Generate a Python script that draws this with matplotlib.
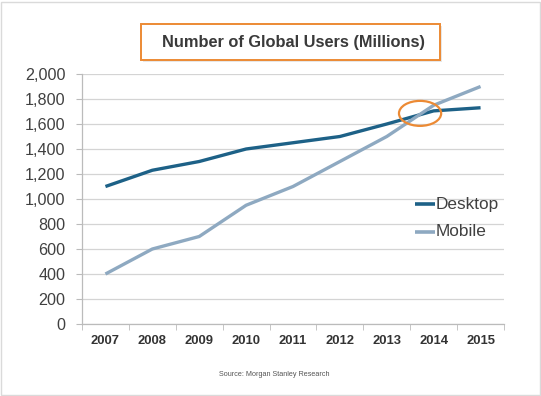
import matplotlib
matplotlib.use("Agg")
import matplotlib.pyplot as plt
from matplotlib.patches import Ellipse, Rectangle
import numpy as np

years = ["2007", "2008", "2009", "2010", "2011", "2012", "2013", "2014", "2015"]
desktop = [1100, 1230, 1300, 1400, 1450, 1500, 1600, 1705, 1730]
mobile = [400, 600, 700, 950, 1100, 1300, 1500, 1750, 1900]
y_ticks = [0, 200, 400, 600, 800, 1000, 1200, 1400, 1600, 1800, 2000]

plt.rcParams['font.family'] = ['Liberation Sans', 'DejaVu Sans']

W, H = 541, 396
fig = plt.figure(figsize=(W / 100, H / 100), dpi=100)
fig.patch.set_facecolor("white")

# outer frame
fig.add_artist(Rectangle((0.5 / W, 1.5 / H), (W - 2) / W, (H - 3) / H, transform=fig.transFigure,
                         fill=False, edgecolor="#dadada", linewidth=1.0))

ax = fig.add_axes([82 / W, 1 - 324 / H, 422 / W, 250 / H])
x = np.arange(len(years))
c_desk = "#1d6187"
c_mob = "#8ea9c1"
ax.plot(x, desktop, color=c_desk, linewidth=2.4, solid_capstyle="butt", zorder=3)
ax.plot(x, mobile, color=c_mob, linewidth=2.4, solid_capstyle="butt", zorder=3)

ax.set_xlim(-0.5, len(years) - 0.5)
ax.set_ylim(0, 2000)
ax.set_yticks(y_ticks)
ax.set_yticklabels([f"{v:,}" for v in y_ticks], fontsize=11.6, color="#404040")
ax.set_xticks(x)
ax.set_xticklabels(years, fontsize=9.4, fontweight="bold", color="#333333")
ax.set_xticks(np.arange(-0.5, len(years)), minor=True)
ax.tick_params(axis="x", which="major", length=0, pad=8)
ax.tick_params(axis="x", which="minor", length=4, color="#bbbbbb", direction="out")
ax.tick_params(axis="y", length=4, color="#bbbbbb", pad=8)
ax.grid(axis="y", color="#d4d4d4", linewidth=0.9)
ax.set_axisbelow(True)
for s in ["top", "right"]:
    ax.spines[s].set_visible(False)
for s in ["left", "bottom"]:
    ax.spines[s].set_color("#bbbbbb")
    ax.spines[s].set_linewidth(0.9)

# highlight ellipse around crossover
ax.add_patch(Ellipse((6.71, 1685), 0.9, 200, fill=False, edgecolor="#ec8a34", linewidth=1.6, zorder=4))

# legend
ax.plot([6.60, 7.03], [960, 960], color=c_desk, linewidth=2.6, solid_capstyle="butt", clip_on=False)
ax.plot([6.60, 7.03], [738, 738], color=c_mob, linewidth=2.6, solid_capstyle="butt", clip_on=False)
ax.text(7.04, 960, "Desktop", fontsize=12.4, color="#404040", va="center", ha="left")
ax.text(7.04, 738, "Mobile", fontsize=12.4, color="#404040", va="center", ha="left")

# title box with subtle shadow
fig.add_artist(Rectangle((143 / W, 1 - 62 / H), 299 / W, 36 / H, transform=fig.transFigure,
                         facecolor="#dddddd", edgecolor="none", alpha=0.7))
fig.add_artist(Rectangle((141 / W, 1 - 60 / H), 299 / W, 36 / H, transform=fig.transFigure,
                         facecolor="white", edgecolor="#ec8a34", linewidth=1.4))
fig.text(294 / W, 1 - 43 / H, "Number of Global Users (Millions)", fontsize=11.8, fontweight="bold",
         color="#3a3a3a", ha="center", va="center")

fig.text(274 / W, 1 - 375 / H, "Source: Morgan Stanley Research", fontsize=5.2, color="#555555",
         ha="center", va="center")

fig.savefig("out.png", dpi=100)
